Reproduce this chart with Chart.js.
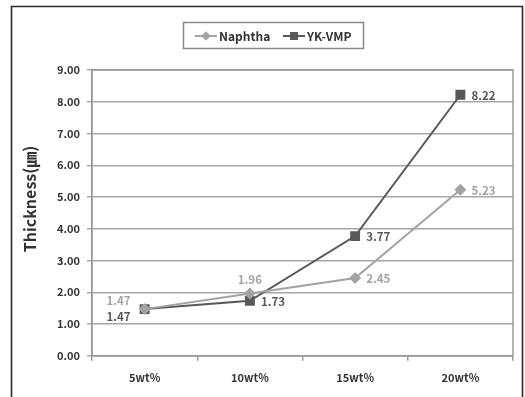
<!DOCTYPE html>
<html><head><meta charset="utf-8">
<script src="https://cdn.jsdelivr.net/npm/chart.js@4/dist/chart.umd.min.js"></script>
<style>html,body{margin:0;padding:0;background:#fff;}#wrap{width:525px;height:397px;}</style>
</head><body><div id="wrap"><canvas id="c" width="525" height="397"></canvas></div>
<script>
// Coating thickness by additive concentration
const categories = ['5wt%', '10wt%', '15wt%', '20wt%'];
const naphtha = [1.47, 1.96, 2.45, 5.23];
const ykVmp = [1.47, 1.73, 3.77, 8.22];
const seriesNames = ['Naphtha', 'YK-VMP'];
const yTickValues = [0, 1, 2, 3, 4, 5, 6, 7, 8, 9];
const axisTitle = 'Thickness(㎛)';

const FONT = '"Noto Sans CJK KR", "Noto Sans", sans-serif';
const LIGHT = '#a3a3a3';
const DARK = '#585858';

// where each value label sits relative to its point
const naphthaLabelAt = ['left-up', 'up', 'right', 'right'];
const ykLabelAt = ['left-down', 'right', 'right', 'right'];

const framePlugin = {
  id: 'frame',
  beforeDraw(chart) {
    const ctx = chart.ctx;
    ctx.save();
    ctx.fillStyle = '#fff';
    ctx.fillRect(0, 0, chart.width, chart.height);
    ctx.strokeStyle = '#2a2a2a';
    ctx.lineWidth = 1.6;
    ctx.beginPath();
    ctx.moveTo(11.5, 397); ctx.lineTo(11.5, 6.5); ctx.lineTo(522.5, 6.5); ctx.lineTo(522.5, 397);
    ctx.stroke();
    ctx.restore();
  },
  afterDraw(chart) {
    const ctx = chart.ctx;
    const a = chart.chartArea;
    ctx.save();
    // plot border
    ctx.strokeStyle = '#9a9a9a';
    ctx.lineWidth = 1.5;
    ctx.strokeRect(a.left, a.top, a.right - a.left, a.bottom - a.top);
    // rotated axis title
    ctx.fillStyle = '#333';
    ctx.font = 'bold 16px ' + FONT;
    ctx.textAlign = 'center';
    ctx.textBaseline = 'middle';
    ctx.translate(30, 199);
    ctx.rotate(-Math.PI / 2);
    ctx.fillText(axisTitle, 0, 0);
    ctx.restore();

    // legend
    ctx.save();
    const bx = 183, by = 22, bw = 180, bh = 26;
    ctx.strokeStyle = '#8a8a8a';
    ctx.lineWidth = 1.5;
    ctx.strokeRect(bx + 0.5, by + 0.5, bw, bh);
    const cy = by + bh / 2 + 1;
    ctx.font = 'bold 12px ' + FONT;
    ctx.textBaseline = 'middle';
    ctx.textAlign = 'left';
    const items = [
      { x: 195, color: LIGHT, style: 'rectRot', r: 4.5, name: seriesNames[0] },
      { x: 283, color: DARK, style: 'rect', r: 5.5, name: seriesNames[1] }
    ];
    items.forEach(it => {
      ctx.strokeStyle = it.color;
      ctx.lineWidth = 2;
      ctx.beginPath();
      ctx.moveTo(it.x, cy); ctx.lineTo(it.x + 22, cy);
      ctx.stroke();
      ctx.fillStyle = it.color;
      Chart.helpers.drawPoint(ctx, { pointStyle: it.style, radius: it.r, borderWidth: 0 }, it.x + 11, cy);
      ctx.fill();
      ctx.fillStyle = '#333';
      ctx.fillText(it.name, it.x + 24, cy);
    });
    ctx.restore();
  }
};

const valueLabels = {
  id: 'valueLabels',
  afterDatasetsDraw(chart) {
    const ctx = chart.ctx;
    ctx.save();
    ctx.font = 'bold 11.5px ' + FONT;
    ctx.textBaseline = 'middle';
    chart.data.datasets.forEach((ds, i) => {
      const meta = chart.getDatasetMeta(i);
      meta.data.forEach((pt, j) => {
        const txt = ds.data[j].toFixed(2);
        const where = ds.labelAt[j];
        ctx.fillStyle = ds.labelColor;
        let x = pt.x, y = pt.y;
        if (where === 'left-up') { ctx.textAlign = 'right'; x -= 14; y -= 8; }
        else if (where === 'left-down') { ctx.textAlign = 'right'; x -= 14; y += 8; }
        else if (where === 'up') { ctx.textAlign = 'center'; y -= 14; }
        else { ctx.textAlign = 'left'; x += 11; y += 1; }
        ctx.fillText(txt, x, y);
      });
    });
    ctx.restore();
  }
};

new Chart(document.getElementById('c'), {
  type: 'line',
  data: {
    labels: categories,
    datasets: [
      {
        label: seriesNames[0], data: naphtha, labelAt: naphthaLabelAt, labelColor: LIGHT,
        borderColor: LIGHT, backgroundColor: LIGHT, borderWidth: 2,
        pointStyle: 'rectRot', pointRadius: 6, pointHoverRadius: 6, pointBorderWidth: 0
      },
      {
        label: seriesNames[1], data: ykVmp, labelAt: ykLabelAt, labelColor: DARK,
        borderColor: DARK, backgroundColor: DARK, borderWidth: 2,
        pointStyle: 'rect', pointRadius: 7, pointHoverRadius: 7, pointBorderWidth: 0
      }
    ]
  },
  options: {
    responsive: false,
    animation: false,
    devicePixelRatio: 1,
    layout: { padding: { left: 0, right: 12, top: 70, bottom: 3 } },
    plugins: { legend: { display: false }, tooltip: { enabled: false } },
    scales: {
      x: {
        offset: true,
        grid: { offset: true, drawOnChartArea: false, drawTicks: true, tickLength: 5, color: '#9a9a9a', lineWidth: 1.5 },
        border: { color: '#9a9a9a', width: 1.5 },
        ticks: { color: '#333', padding: 10, font: { family: FONT, size: 11, weight: 'bold' } }
      },
      y: {
        min: 0, max: 9,
        afterFit(s) { s.width = 92; },
        afterBuildTicks(s) { s.ticks = yTickValues.map(v => ({ value: v })); },
        grid: { color: '#a6a6a6', lineWidth: 1.5, tickLength: 5 },
        border: { color: '#9a9a9a', width: 1.5 },
        ticks: {
          color: '#333', padding: 7,
          font: { family: FONT, size: 11, weight: 'bold' },
          callback: v => Number(v).toFixed(2)
        }
      }
    }
  },
  plugins: [framePlugin, valueLabels]
});
</script>
</body></html>
